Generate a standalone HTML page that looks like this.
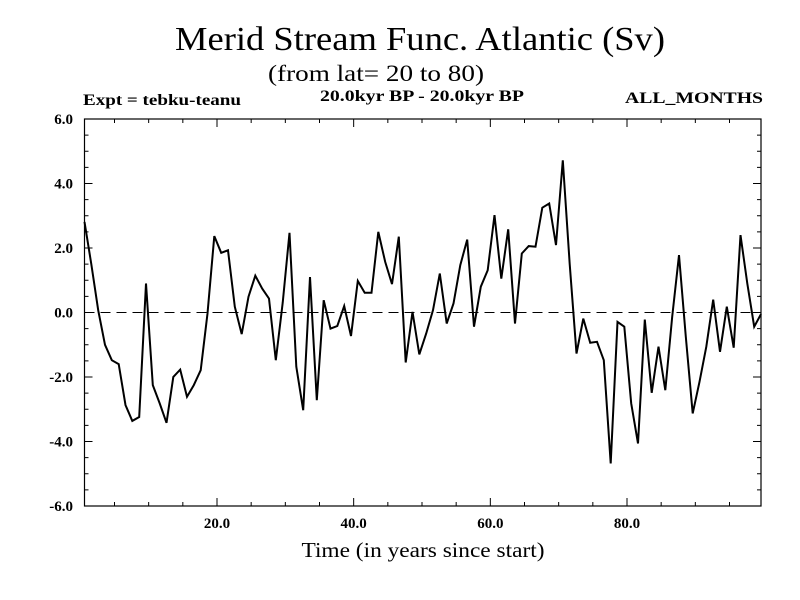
<!DOCTYPE html>
<html><head><meta charset="utf-8"><style>
html,body{margin:0;padding:0;background:#fff;}
svg{display:block;font-family:"Liberation Serif",serif;}
</style></head><body>
<svg id="chart" width="800" height="600" viewBox="0 0 800 600">
<text x="175" y="50" font-size="34" textLength="490" lengthAdjust="spacingAndGlyphs">Merid Stream Func. Atlantic (Sv)</text>
<text x="268" y="81" font-size="23" textLength="216" lengthAdjust="spacingAndGlyphs">(from lat= 20 to 80)</text>
<text x="83" y="105" font-size="16" font-weight="bold" textLength="158" lengthAdjust="spacingAndGlyphs">Expt = tebku-teanu</text>
<text x="320" y="101" font-size="16" font-weight="bold" textLength="204" lengthAdjust="spacingAndGlyphs">20.0kyr BP - 20.0kyr BP</text>
<text x="625" y="103" font-size="16" font-weight="bold" textLength="138" lengthAdjust="spacingAndGlyphs">ALL_MONTHS</text>
<text x="423" y="557" font-size="21" text-anchor="middle" textLength="243" lengthAdjust="spacingAndGlyphs">Time (in years since start)</text>
<g id="axes"></g>
</svg>
<script>
const values = [2.81,1.5,0.07,-1.0,-1.48,-1.6,-2.87,-3.36,-3.24,0.9,
-2.25,-2.82,-3.42,-2.0,-1.77,-2.61,-2.25,-1.79,-0.03,2.37,
1.85,1.93,0.18,-0.67,0.49,1.14,0.74,0.43,-1.48,0.3,
2.47,-1.68,-3.03,1.1,-2.72,0.38,-0.5,-0.42,0.2,-0.73,
0.98,0.61,0.61,2.5,1.57,0.88,2.35,-1.55,0.02,-1.3,
-0.65,0.07,1.21,-0.34,0.28,1.47,2.26,-0.44,0.8,1.31,
3.02,1.05,2.58,-0.34,1.83,2.06,2.04,3.25,3.38,2.09,
4.72,1.5,-1.27,-0.19,-0.94,-0.91,-1.48,-4.68,-0.29,-0.44,
-2.82,-4.06,-0.22,-2.49,-1.06,-2.41,-0.13,1.78,-0.75,-3.13,
-2.15,-1.06,0.4,-1.22,0.18,-1.09,2.4,0.9,-0.44,-0.05];
const yTicks = [-6,-4,-2,0,2,4,6];
const yTickLabels = ["-6.0","-4.0","-2.0","0.0","2.0","4.0","6.0"];
const xTicks = [20,40,60,80];
const xTickLabels = ["20.0","40.0","60.0","80.0"];
const X0=84.5,X1=761,Y0=506,Y1=119,TMIN=0.61,TMAX=99.61,VMIN=-6,VMAX=6;
const xs=t=>X0+(t-TMIN)/(TMAX-TMIN)*(X1-X0);
const ys=v=>Y0-(v-VMIN)/(VMAX-VMIN)*(Y0-Y1);
const NS="http://www.w3.org/2000/svg";
const g=document.getElementById('axes');
function mk(tag,attrs){const e=document.createElementNS(NS,tag);for(const k in attrs)e.setAttribute(k,attrs[k]);g.appendChild(e);return e;}
const z=mk('line',{x1:X0,x2:X1,y1:ys(0),y2:ys(0),stroke:'#000','stroke-width':1,'stroke-dasharray':'10,6'});


const fr=mk('rect',{x:X0,y:Y1,width:X1-X0,height:Y0-Y1,fill:'none',stroke:'#000','stroke-width':1.2});


for(let v=VMIN;v<=VMAX+1e-9;v+=0.5){
  const major=Math.abs(v%2)<1e-9;const L=major?8:4;const y=ys(v);
  const t1=mk('line',{x1:X0,x2:X0+L,y1:y,y2:y,stroke:'#000','stroke-width':1});
  
  
  const t2=mk('line',{x1:X1,x2:X1-L,y1:y,y2:y,stroke:'#000','stroke-width':1});
  
  
}
yTicks.forEach((v,i)=>{
  const t=mk('text',{x:73,y:ys(v)+5,'font-size':15,'font-weight':'bold','text-anchor':'end'});
  t.textContent=yTickLabels[i];
  
  
});
for(let t=5;t<TMAX;t+=5){
  const major=t%20===0;const L=major?8:4;const x=xs(t);
  const a=mk('line',{x1:x,x2:x,y1:Y0,y2:Y0-L,stroke:'#000','stroke-width':1});
  
  
  const b=mk('line',{x1:x,x2:x,y1:Y1,y2:Y1+L,stroke:'#000','stroke-width':1});
  
  
}
xTicks.forEach((v,i)=>{
  const t=mk('text',{x:xs(v),y:528,'font-size':15,'font-weight':'bold','text-anchor':'middle'});
  t.textContent=xTickLabels[i];
  
  
});
const pts=values.map((v,i)=>xs(TMIN+i).toFixed(1)+','+ys(v).toFixed(1)).join(' ');
const pl=mk('polyline',{points:pts,fill:'none',stroke:'#000','stroke-width':2,'stroke-linejoin':'miter'});


</script>
</body></html>
